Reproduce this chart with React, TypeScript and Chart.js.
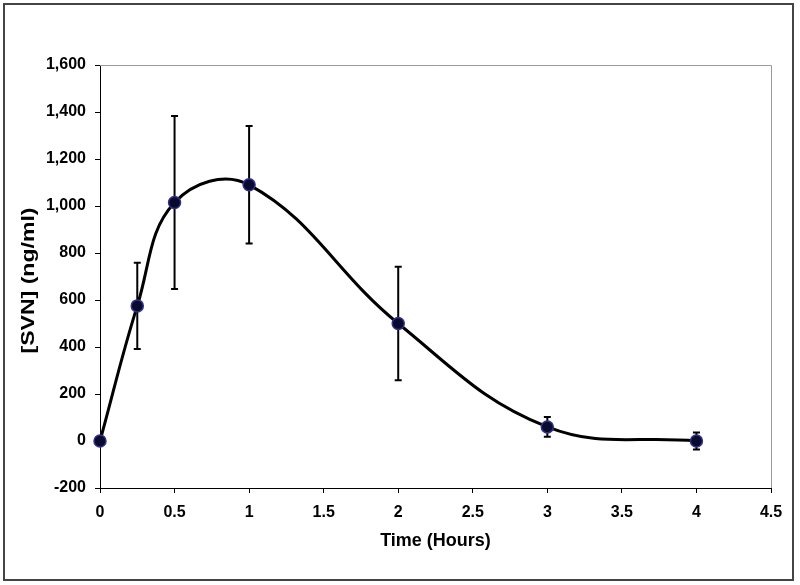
import React, { useEffect, useRef } from "react";
import { Chart, registerables } from "chart.js";

Chart.register(...registerables);

const timeHours = [0, 0.25, 0.5, 1, 2, 3, 4];
const svnValues = [0, 575, 1015, 1090, 500, 60, 0];
const svnErrors = [15, 183, 368, 250, 241, 42, 36];
const xTickLabels = ["0", "0.5", "1", "1.5", "2", "2.5", "3", "3.5", "4", "4.5"];
const yTickLabels = ["-200", "0", "200", "400", "600", "800", "1,000", "1,200", "1,400", "1,600"];
const xTitle = "Time (Hours)";
const yTitle = "[SVN] (ng/ml)";

const FONT = "'Liberation Sans', Arial, sans-serif";

const chartPlugin = {
  id: "customDecor",
  beforeDraw(chart: any) {
    const ctx = chart.ctx;
    ctx.save();
    ctx.fillStyle = "#ffffff";
    ctx.fillRect(0, 0, chart.width, chart.height);
    ctx.restore();
  },
  beforeDatasetsDraw(chart: any) {
    const ctx = chart.ctx;
    const { chartArea } = chart;
    const xs = chart.scales.x;
    const ys = chart.scales.y;
    ctx.save();
    ctx.strokeStyle = "#9a9a9a";
    ctx.lineWidth = 1;
    ctx.beginPath();
    ctx.moveTo(chartArea.left, chartArea.top + 0.5);
    ctx.lineTo(chartArea.right + 0.5, chartArea.top + 0.5);
    ctx.lineTo(chartArea.right + 0.5, chartArea.bottom);
    ctx.stroke();
    ctx.strokeStyle = "#000000";
    ctx.lineWidth = 2;
    timeHours.forEach((t, i) => {
      const px = xs.getPixelForValue(t);
      const top = ys.getPixelForValue(svnValues[i] + svnErrors[i]);
      const bot = ys.getPixelForValue(svnValues[i] - svnErrors[i]);
      ctx.beginPath();
      ctx.moveTo(px, top);
      ctx.lineTo(px, bot);
      ctx.moveTo(px - 3.5, top);
      ctx.lineTo(px + 3.5, top);
      ctx.moveTo(px - 3.5, bot);
      ctx.lineTo(px + 3.5, bot);
      ctx.stroke();
    });
    ctx.restore();
  },
  afterDraw(chart: any) {
    const ctx = chart.ctx;
    const { chartArea } = chart;
    ctx.save();
    ctx.strokeStyle = "#444444";
    ctx.lineWidth = 2;
    ctx.strokeRect(4, 4, 789, 576);
    ctx.fillStyle = "#000000";
    ctx.font = `bold 18px ${FONT}`;
    ctx.textAlign = "center";
    ctx.textBaseline = "middle";
    ctx.translate(29, (chartArea.top + chartArea.bottom) / 2 + 4);
    ctx.rotate(-Math.PI / 2);
    ctx.scale(1.28, 1);
    ctx.fillText(yTitle, 0, 0);
    ctx.restore();
  },
};

export default function App() {
  const canvasRef = useRef<HTMLCanvasElement | null>(null);

  useEffect(() => {
    if (!canvasRef.current) return;
    const chart = new Chart(canvasRef.current, {
      type: "line",
      data: {
        datasets: [
          {
            data: timeHours.map((t, i) => ({ x: t, y: svnValues[i] })),
            borderColor: "#000000",
            borderWidth: 3,
            tension: 0.4,
            clip: false,
            pointRadius: 6,
            pointBackgroundColor: "#0a0a2e",
            pointBorderColor: "#303088",
            pointBorderWidth: 1.5,
            fill: false,
          },
        ],
      },
      options: {
        responsive: false,
        animation: false,
        events: [],
        layout: { padding: { left: 0, right: 29, top: 65, bottom: 0 } },
        plugins: {
          legend: { display: false },
          tooltip: { enabled: false },
          title: { display: false },
        },
        scales: {
          x: {
            type: "linear",
            min: 0,
            max: 4.5,
            ticks: {
              stepSize: 0.5,
              color: "#000000",
              font: { family: FONT, size: 16, weight: "bold" },
              padding: 10,
              maxRotation: 0,
              autoSkip: false,
              callback: (_v: any, i: number) => xTickLabels[i],
            },
            grid: {
              drawOnChartArea: false,
              drawTicks: true,
              tickLength: 5,
              color: "#000000",
            },
            border: { display: true, color: "#000000", width: 1 },
            title: {
              display: true,
              text: xTitle,
              color: "#000000",
              font: { family: FONT, size: 18, weight: "bold" },
              padding: { top: 0, bottom: 33 },
            },
            afterFit: (scale: any) => {
              scale.height = 97;
            },
          },
          y: {
            type: "linear",
            min: -200,
            max: 1600,
            ticks: {
              stepSize: 200,
              color: "#000000",
              font: { family: FONT, size: 16, weight: "bold" },
              padding: 9,
              autoSkip: false,
              callback: (_v: any, i: number) => yTickLabels[i],
            },
            grid: {
              drawOnChartArea: false,
              drawTicks: true,
              tickLength: 5,
              color: "#000000",
            },
            border: { display: true, color: "#000000", width: 1 },
            title: { display: false },
            afterFit: (scale: any) => {
              scale.width = 100;
            },
          },
        },
      },
      plugins: [chartPlugin],
    });
    return () => chart.destroy();
  }, []);

  return (
    <div style={{ position: "absolute", left: 0, top: 0, width: 800, height: 585 }}>
      <canvas ref={canvasRef} width={800} height={585} style={{ display: "block" }} />
    </div>
  );
}
